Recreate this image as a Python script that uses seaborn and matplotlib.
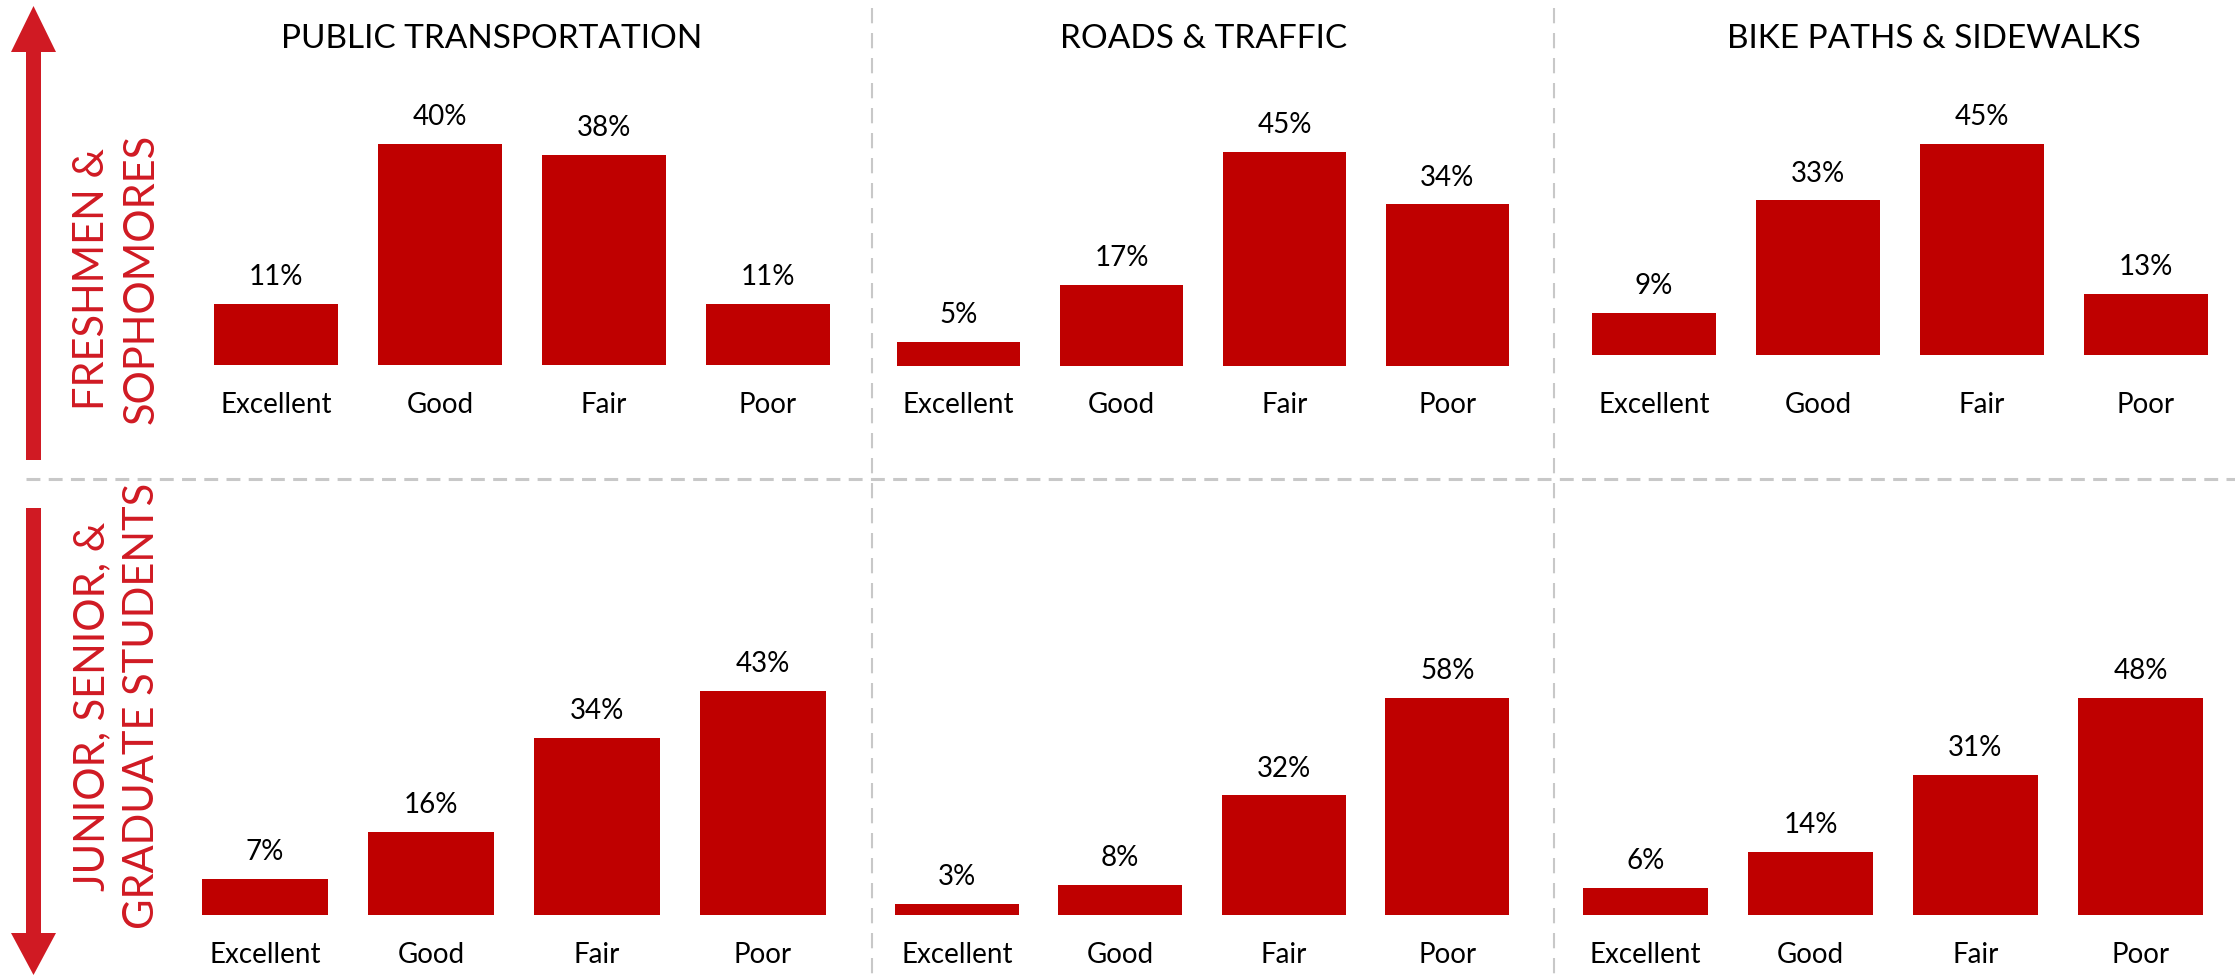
import matplotlib
matplotlib.use("Agg")
import matplotlib.pyplot as plt
from matplotlib.patches import FancyArrow
import seaborn as sns

# survey ratings (%)
categories = ["Excellent", "Good", "Fair", "Poor"]
topics = ["PUBLIC TRANSPORTATION", "ROADS & TRAFFIC", "BIKE PATHS & SIDEWALKS"]

# freshmen & sophomores
lower_public = [11, 40, 38, 11]
lower_roads = [5, 17, 45, 34]
lower_bike = [9, 33, 45, 13]

# junior, senior & graduate students
upper_public = [7, 16, 34, 43]
upper_roads = [3, 8, 32, 58]
upper_bike = [6, 14, 31, 48]

row_labels = [("FRESHMEN &", "SOPHOMORES"), ("JUNIOR, SENIOR, &", "GRADUATE STUDENTS")]

BAR = "#BF0000"
ACCENT = "#D01A23"
GRID = "#C8C8C8"

sns.set_theme(style="white")
plt.rcParams["font.family"] = ["Lato", "DejaVu Sans"]
plt.rcParams["lines.scale_dashes"] = False

W, H = 2235, 975
fig = plt.figure(figsize=(W / 100, H / 100), dpi=100)
fig.patch.set_facecolor("white")

# overlay in pixel coordinates for arrows / dividers
over = fig.add_axes([0, 0, 1, 1])
over.set_xlim(0, W)
over.set_ylim(H, 0)
over.axis("off")

over.plot([26, W], [479, 479], color=GRID, lw=2.2, ls=(0, (10, 6)))
for xv in [872, 1554]:
    over.plot([xv, xv], [8, H], color=GRID, lw=1.5, ls=(0, (11, 7)))

over.add_patch(FancyArrow(33.5, 460, 0, -454, width=15, head_width=45, head_length=46,
                          length_includes_head=True, color=ACCENT, lw=0))
over.add_patch(FancyArrow(33.5, 508, 0, 467, width=15, head_width=45, head_length=42,
                          length_includes_head=True, color=ACCENT, lw=0))

# row labels
for (l1, l2), yc in zip(row_labels, [279, 706]):
    over.text(92, yc, l1, rotation=90, ha="center", va="center", fontsize=30,
              color=ACCENT)
    over.text(142, yc, l2, rotation=90, ha="center", va="center", fontsize=30,
              color=ACCENT)

# column titles
for t, xc in zip(topics, [492, 1204, 1934]):
    over.text(xc, 39, t, ha="center", va="center", fontsize=24, color="black")

# panel boxes: left, width, baseline y, top y, category label top y (pixels)
panels = [
    (lower_public, 194, 656, 365, 144, 392),
    (lower_roads, 877, 652, 366, 152, 392),
    (lower_bike, 1572, 656, 355, 144, 392),
    (upper_public, 182, 664, 915, 691, 942),
    (upper_roads, 875, 654, 915, 698, 942),
    (upper_bike, 1563, 660, 915, 698, 942),
]

for vals, left, width, base, top, lab_y in panels:
    ax = fig.add_axes([left / W, 1 - base / H, width / W, (base - top) / H])
    ax.patch.set_alpha(0)
    sns.barplot(x=categories, y=vals, color=BAR, saturation=1, width=0.76, ax=ax)
    ax.set_xlim(-0.5, 3.5)
    ax.set_ylim(0, max(vals))
    for i, v in enumerate(vals):
        ax.annotate(f"{v}%", (i, v), xytext=(0, 13.5), textcoords="offset points",
                    ha="center", va="baseline", fontsize=20, color="black")
    ax.set_yticks([])
    ax.tick_params(axis="x", length=0, pad=(lab_y - base) * 0.72, labelsize=20,
                   labelcolor="black")
    ax.set_xlabel("")
    ax.set_ylabel("")
    sns.despine(ax=ax, left=True, bottom=True)
    for p in ax.patches:
        p.set_edgecolor("none")

fig.savefig("out.png", dpi=100, facecolor="white")
